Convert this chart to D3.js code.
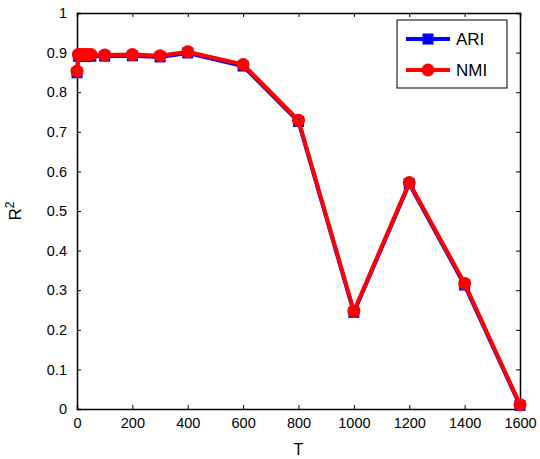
<!DOCTYPE html>
<html>
<head>
<meta charset="utf-8">
<script src="https://cdn.jsdelivr.net/npm/d3@7"></script>
<style>
  body { margin: 0; background: #fff; }
  text { font-family: "Liberation Sans", Arial, sans-serif; fill: #000; }
</style>
</head>
<body>
<div id="chart"></div>
<script>
// data
var tValues = [0, 5, 10, 20, 30, 40, 50, 100, 200, 300, 400, 600, 800, 1000, 1200, 1400, 1600];
var ariValues = [0.849, 0.891, 0.891, 0.891, 0.891, 0.891, 0.891, 0.891, 0.892, 0.889, 0.899, 0.866, 0.726, 0.244, 0.569, 0.313, 0.009];
var nmiValues = [0.853, 0.895, 0.895, 0.895, 0.895, 0.895, 0.895, 0.894, 0.895, 0.892, 0.902, 0.870, 0.729, 0.247, 0.572, 0.317, 0.011];
var xTicks = [0, 200, 400, 600, 800, 1000, 1200, 1400, 1600];
var yTicks = [0, 0.1, 0.2, 0.3, 0.4, 0.5, 0.6, 0.7, 0.8, 0.9, 1];

var svgWidth = 540;
var svgHeight = 459;
var margin = { top: 13, right: 20, bottom: 50, left: 77 };
var width = 520 - margin.left;
var height = 409 - margin.top;

var svg = d3.select("#chart")
    .append("svg")
    .attr("width", svgWidth)
    .attr("height", svgHeight);

var chartGroup = svg.append("g")
    .attr("transform", `translate(${margin.left}, ${margin.top})`);

var xScale = d3.scaleLinear().domain([0, 1600]).range([0, width]);
var yScale = d3.scaleLinear().domain([0, 1]).range([height, 0]);

// axes with inward ticks
var bottomAxis = d3.axisBottom(xScale).tickValues(xTicks).tickSize(-4).tickPadding(9).tickFormat(d3.format("d"));
var leftAxis = d3.axisLeft(yScale).tickValues(yTicks).tickSize(-4).tickPadding(10).tickFormat(function(d) { return d === 0 || d === 1 ? d : d3.format(".1f")(d); });
var topAxis = d3.axisTop(xScale).tickValues(xTicks).tickSize(-4).tickFormat("");
var rightAxis = d3.axisRight(yScale).tickValues(yTicks).tickSize(-4).tickFormat("");

function styleAxis(g) {
    g.select(".domain").attr("stroke", "#000").attr("stroke-width", 1.5);
    g.selectAll(".tick line").attr("stroke", "#000").attr("stroke-width", 1);
    g.selectAll(".tick text").style("font-size", "14.5px").attr("fill", "#000");
}

chartGroup.append("g").attr("transform", `translate(0, ${height})`).call(bottomAxis).call(styleAxis);
chartGroup.append("g").call(leftAxis).call(styleAxis);
chartGroup.append("g").call(topAxis).call(styleAxis);
chartGroup.append("g").attr("transform", `translate(${width}, 0)`).call(rightAxis).call(styleAxis);

// axis labels
svg.append("text")
    .attr("x", margin.left + xScale(800))
    .attr("y", 455)
    .attr("text-anchor", "middle")
    .style("font-size", "16px")
    .text("T");

var yLabel = svg.append("text")
    .attr("transform", `translate(21, ${margin.top + yScale(0.5)}) rotate(-90)`)
    .attr("text-anchor", "middle")
    .style("font-size", "17px");
yLabel.append("tspan").text("R");
yLabel.append("tspan").attr("dy", -7).style("font-size", "12px").text("2");

var ariData = tValues.map(function(t, i) { return { t: t, v: ariValues[i] }; });
var nmiData = tValues.map(function(t, i) { return { t: t, v: nmiValues[i] }; });

var line = d3.line()
    .x(d => xScale(d.t))
    .y(d => yScale(d.v));

// ARI - blue squares
chartGroup.append("path")
    .datum(ariData)
    .attr("fill", "none")
    .attr("stroke", "#0000ff")
    .attr("stroke-width", 4)
    .attr("d", line);
chartGroup.selectAll(".ari")
    .data(ariData)
    .enter()
    .append("rect")
    .attr("class", "ari")
    .attr("x", d => xScale(d.t) - 5.5)
    .attr("y", d => yScale(d.v) - 5.5)
    .attr("width", 11)
    .attr("height", 11)
    .attr("fill", "#0000ff");

// NMI - red circles
chartGroup.append("path")
    .datum(nmiData)
    .attr("fill", "none")
    .attr("stroke", "#ff0000")
    .attr("stroke-width", 4)
    .attr("d", line);
chartGroup.selectAll(".nmi")
    .data(nmiData)
    .enter()
    .append("circle")
    .attr("class", "nmi")
    .attr("cx", d => xScale(d.t))
    .attr("cy", d => yScale(d.v))
    .attr("r", 6.5)
    .attr("fill", "#ff0000");

// legend
var legend = svg.append("g").attr("transform", "translate(397, 20)");
legend.append("rect")
    .attr("width", 110)
    .attr("height", 68)
    .attr("fill", "#fff")
    .attr("stroke", "#000")
    .attr("stroke-width", 1);
legend.append("line").attr("x1", 9).attr("x2", 53).attr("y1", 19).attr("y2", 19)
    .attr("stroke", "#0000ff").attr("stroke-width", 4);
legend.append("rect").attr("x", 25.5).attr("y", 13.5).attr("width", 11).attr("height", 11).attr("fill", "#0000ff");
legend.append("text").attr("x", 59).attr("y", 25).style("font-size", "17px").text("ARI");
legend.append("line").attr("x1", 9).attr("x2", 53).attr("y1", 50).attr("y2", 50)
    .attr("stroke", "#ff0000").attr("stroke-width", 4);
legend.append("circle").attr("cx", 31).attr("cy", 50).attr("r", 6.5).attr("fill", "#ff0000");
legend.append("text").attr("x", 59).attr("y", 56).style("font-size", "17px").text("NMI");
</script>
</body>
</html>
